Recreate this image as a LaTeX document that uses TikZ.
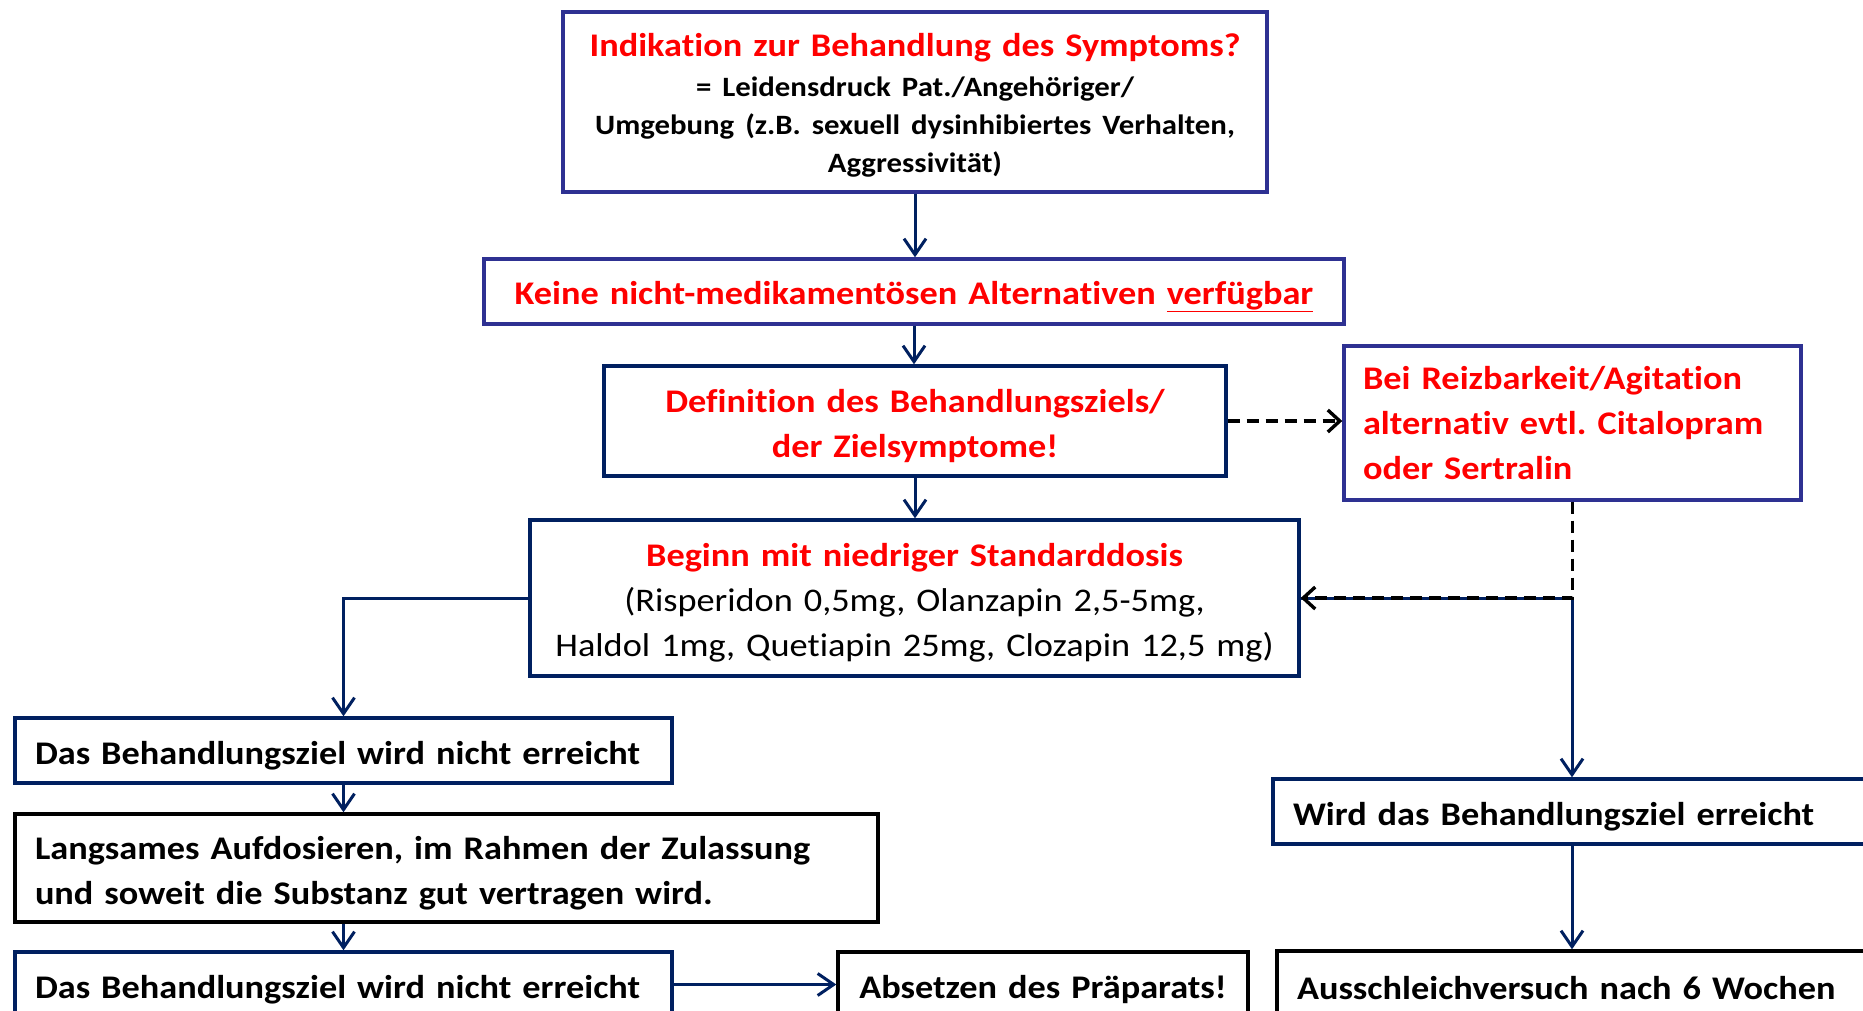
\documentclass[tikz,border=0pt]{standalone}
\usepackage{fontspec}
\setmainfont{Carlito}[FakeStretch=1.1, Ligatures=NoCommon]
\usetikzlibrary{arrows.meta}
\definecolor{rd}{RGB}{255,0,0}
\definecolor{navy}{RGB}{0,32,96}
\definecolor{indi}{RGB}{46,49,146}
\newcommand\mystrut{\rule{0pt}{33pt}}
\frenchspacing
\begin{document}
\begin{tikzpicture}[x=1pt,y=-1pt,
  box/.style={draw=navy, line width=3.4pt, inner xsep=0pt, inner ysep=0pt,
    font=\bfseries\fontsize{33}{45}\selectfont, align=center},
  lbox/.style={box, align=left},
  arr/.style={draw=navy, line width=3pt, -{Straight Barb[length=16pt,width=22pt,line width=3pt]}},
  darr/.style={draw=black, line width=3.4pt, dash pattern=on 12pt off 7pt, -{Straight Barb[length=12pt,width=22pt,line width=3.4pt]}}
]
\useasboundingbox (0,0) rectangle (1863,1011);
\clip (0,0) rectangle (1863,1011);
\fill[white] (0,0) rectangle (1863,1011);

\node[box, draw=indi, minimum width=704pt, minimum height=180pt, text width=684pt] (n1) at (915,102)
 {{\color{rd}\fontsize{33}{38}\selectfont \rule{0pt}{30pt}Indikation zur Behandlung des Symptoms?}\\[2pt]
  \fontsize{28}{38}\selectfont = Leidensdruck Pat./Angehöriger/\\
  Umgebung (z.B. sexuell dysinhibiertes Verhalten,\\[-7pt] Aggressivität)};

\node[box, draw=indi, minimum width=860pt, minimum height=65pt, text width=840pt, text=rd] (n2) at (914,291.5)
 {\mystrut Keine nicht-medikamentösen Alternativen \underline{verfügbar}};

\node[box, minimum width=622pt, minimum height=110pt, text width=602pt, text=rd] (n3) at (915,421)
 {\mystrut Definition des Behandlungsziels/\\ der Zielsymptome!};

\node[lbox, draw=indi, minimum width=457pt, minimum height=154pt, text width=419pt, text=rd] (side) at (1572.5,423)
 {Bei Reizbarkeit/Agitation\\ alternativ evtl. Citalopram\\ oder Sertralin};

\node[box, minimum width=769pt, minimum height=156pt, text width=749pt] (n4) at (914.5,598)
 {{\color{rd}\mystrut Beginn mit niedriger Standarddosis}\\
  \mdseries (Risperidon 0,5mg, Olanzapin 2,5-5mg,\\ Haldol 1mg, Quetiapin 25mg, Clozapin 12,5 mg)};

\node[lbox, minimum width=657pt, minimum height=65pt, text width=617pt] (n5) at (343.5,750.5)
 {\mystrut Das Behandlungsziel wird nicht erreicht};

\node[lbox, draw=black, minimum width=863pt, minimum height=108pt, text width=823pt] (n6) at (446.5,868)
 {\mystrut Langsames Aufdosieren, im Rahmen der Zulassung\\ und soweit die Substanz gut vertragen wird.};

\node[lbox, minimum width=657pt, minimum height=65pt, text width=617pt] (n7) at (343.5,984.5)
 {\mystrut Das Behandlungsziel wird nicht erreicht};

\node[box, draw=black, minimum width=410pt, minimum height=65pt, text width=390pt] (n8) at (1043,984.5)
 {\mystrut Absetzen des Präparats!};

\node[lbox, minimum width=598pt, minimum height=65pt, text width=558pt] (n9) at (1572,811.5)
 {\mystrut Wird das Behandlungsziel erreicht};

\node[lbox, draw=black, minimum width=590pt, minimum height=65pt, text width=550pt] (n10) at (1572,983.5)
 {\mystrut Ausschleichversuch nach 6 Wochen};

\draw[arr] (n1.south) -- (n1.south |- n2.north);
\draw[arr] (n2.south) -- (n2.south |- n3.north);
\draw[arr] (n3.south) -- (n3.south |- n4.north);
\draw[darr] (n3.east) -- (n3.east -| side.west);
\draw[arr] (n4.west) -| (n5.north);
\draw[arr] (n5.south) -- (n5.south |- n6.north);
\draw[arr] (n5.south |- n6.south) -- (n7.north);
\draw[arr] (n7.east) -- (n8.west);
\draw[arr] (n4.east) -| (n9.north);
\draw[darr] (side.south) |- (n4.east);
\draw[arr] (n9.south) -- (n10.north);
\end{tikzpicture}
\end{document}
